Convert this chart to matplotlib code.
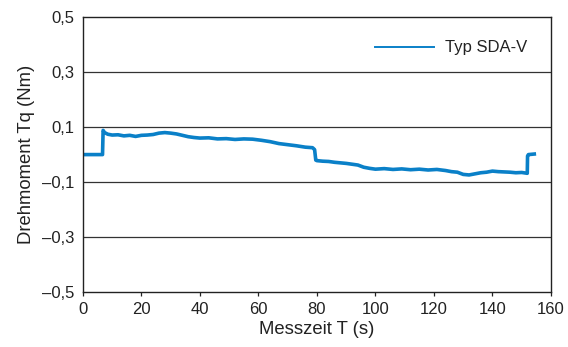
import matplotlib
matplotlib.use("Agg")
import matplotlib.pyplot as plt

plt.rcParams['font.family'] = ['Liberation Sans', 'DejaVu Sans']

zeit = [0, 6.7, 6.9, 7.4, 8.5, 10, 12, 14, 16, 18, 20, 22, 24, 26, 28, 30,
        32, 34, 36, 38, 40, 43, 46, 49, 52, 55, 58, 61, 64, 67, 70, 73, 76,
        78.5, 79.2, 79.6, 80, 82, 84, 86, 88, 90, 92, 94, 96, 98, 100, 103,
        106, 109, 112, 115, 118, 121, 124, 126, 128, 130, 132, 134, 136, 138,
        140, 142, 144, 146, 148, 150, 151.9, 152.0, 152.3, 154.3]
drehmoment = [0.000, 0.000, 0.088, 0.080, 0.074, 0.071, 0.072, 0.068, 0.070,
              0.066, 0.070, 0.071, 0.073, 0.078, 0.080, 0.078, 0.075, 0.070,
              0.065, 0.062, 0.060, 0.061, 0.057, 0.058, 0.055, 0.057, 0.056,
              0.052, 0.047, 0.040, 0.036, 0.032, 0.027, 0.025, 0.018, -0.020,
              -0.022, -0.024, -0.025, -0.028, -0.030, -0.032, -0.035, -0.038,
              -0.046, -0.050, -0.053, -0.051, -0.054, -0.052, -0.055, -0.053,
              -0.056, -0.054, -0.058, -0.062, -0.064, -0.072, -0.074, -0.070,
              -0.066, -0.064, -0.060, -0.062, -0.063, -0.064, -0.066, -0.065,
              -0.068, -0.005, 0.000, 0.002]

x_ticks = [0, 20, 40, 60, 80, 100, 120, 140, 160]
y_ticks = [0.5, 0.3, 0.1, -0.1, -0.3, -0.5]
y_labels = ["0,5", "0,3", "0,1", "\u20130,1", "\u20130,3", "\u20130,5"]

fig = plt.figure(figsize=(5.68, 3.47), dpi=100)
ax = fig.add_axes([0.146, 0.158, 0.824, 0.793])

ax.plot(zeit, drehmoment, color="#0a80c8", lw=2.6, label="Typ SDA-V")

for y in [0.3, 0.1, -0.1, -0.3]:
    ax.axhline(y, color="#333333", lw=0.9, zorder=0)

ax.set_xlim(0, 160)
ax.set_ylim(-0.5, 0.5)
ax.set_xticks(x_ticks)
ax.set_yticks(y_ticks)
ax.set_yticklabels(y_labels)
ax.tick_params(axis="x", length=3, width=0.9, labelsize=12, colors="#222222", pad=4)
ax.tick_params(axis="y", length=0, labelsize=12, colors="#222222", pad=6)
for s in ax.spines.values():
    s.set_color("#222222")
    s.set_linewidth(1.0)

ax.set_xlabel("Messzeit T (s)", fontsize=13.3, color="#222222", labelpad=3)
ax.set_ylabel("Drehmoment Tq (Nm)", fontsize=13.3, color="#222222", labelpad=5)

leg = ax.legend(loc="upper right", frameon=False, fontsize=12,
                handlelength=3.5, handletextpad=0.7, borderaxespad=1.0)
for t in leg.get_texts():
    t.set_color("#222222")
for h in leg.get_lines():
    h.set_linewidth(1.4)

fig.savefig("out.png", dpi=100)
